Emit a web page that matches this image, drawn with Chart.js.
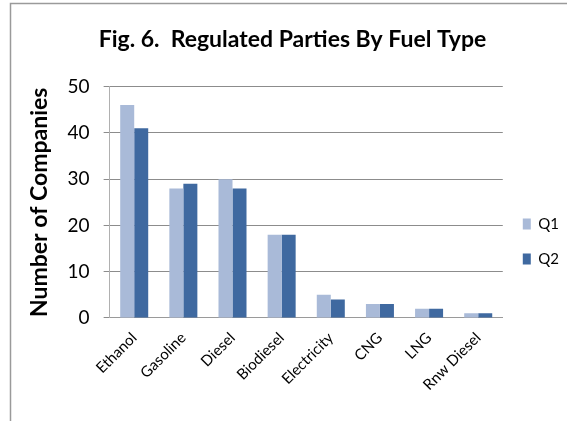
<!DOCTYPE html>
<html>
<head>
<meta charset="utf-8">
<script src="https://cdn.jsdelivr.net/npm/chart.js@4.4.0/dist/chart.umd.min.js"></script>
<style>
  html, body { margin: 0; padding: 0; background: #fff; }
  #wrap { width: 567px; height: 421px; position: relative; }
</style>
</head>
<body>
<div id="wrap"><canvas id="fuel-chart" width="567" height="421"></canvas></div>
<script>
// fuel types and counts per quarter
var fuelTypes = ["Ethanol", "Gasoline", "Diesel", "Biodiesel", "Electricity", "CNG", "LNG", "Rnw Diesel"];
var q1Counts = [46, 28, 30, 18, 5, 3, 2, 1];
var q2Counts = [41, 29, 28, 18, 4, 3, 2, 1];
var yTicks = [0, 10, 20, 30, 40, 50];

var fontFamily = "Lato, 'Open Sans', sans-serif";

// frame lines like the pasted excel chart
var framePlugin = {
    id: 'frame',
    afterDraw: function(chart) {
        var ctx = chart.ctx;
        ctx.save();
        ctx.strokeStyle = '#9a9a9a';
        ctx.lineWidth = 1.5;
        ctx.beginPath();
        ctx.moveTo(10.5, 421);
        ctx.lineTo(10.5, 3.5);
        ctx.lineTo(567, 3.5);
        ctx.stroke();
        ctx.restore();
    }
};

Chart.defaults.font.family = fontFamily;
Chart.defaults.color = '#000';

new Chart(document.getElementById("fuel-chart"), {
    type: 'bar',
    data: {
        labels: fuelTypes,
        datasets: [
            {
                label: 'Q1',
                backgroundColor: '#A9BAD8',
                data: q1Counts
            }, {
                label: 'Q2',
                backgroundColor: '#3F69A0',
                data: q2Counts
            }
        ]
    },
    options: {
        responsive: false,
        animation: false,
        layout: {
            padding: { left: 16, right: -2, bottom: 24, top: 0 }
        },
        datasets: {
            bar: { barPercentage: 1.0, categoryPercentage: 0.57 }
        },
        plugins: {
            title: {
                display: true,
                text: 'Fig. 6.  Regulated Parties By Fuel Type',
                font: { size: 23, weight: 'bold' },
                padding: { top: 26, bottom: 33 }
            },
            legend: {
                position: 'right',
                // empty title only pushes the items down like the original
                title: {
                    display: true,
                    text: ' ',
                    font: { size: 10 },
                    padding: { top: 74, bottom: 0 }
                },
                labels: {
                    boxWidth: 8,
                    boxHeight: 11,
                    padding: 20,
                    font: { size: 15 }
                }
            },
            tooltip: { enabled: false }
        },
        scales: {
            x: {
                grid: { display: false },
                border: { display: true, color: '#9a9a9a' },
                ticks: {
                    maxRotation: 45,
                    minRotation: 45,
                    font: { size: 15 }
                }
            },
            y: {
                min: 0,
                max: 50,
                afterBuildTicks: function(axis) {
                    axis.ticks = yTicks.map(function(v) { return { value: v }; });
                },
                grid: { color: '#8c8c8c', tickLength: 6 },
                border: { display: true, color: '#b0b0b0' },
                ticks: {
                    padding: 14,
                    font: { size: 19 }
                },
                title: {
                    display: true,
                    text: 'Number of Companies',
                    font: { size: 23, weight: 'bold' },
                    padding: { top: 10, bottom: 0 }
                }
            }
        }
    },
    plugins: [framePlugin]
});
</script>
</body>
</html>
